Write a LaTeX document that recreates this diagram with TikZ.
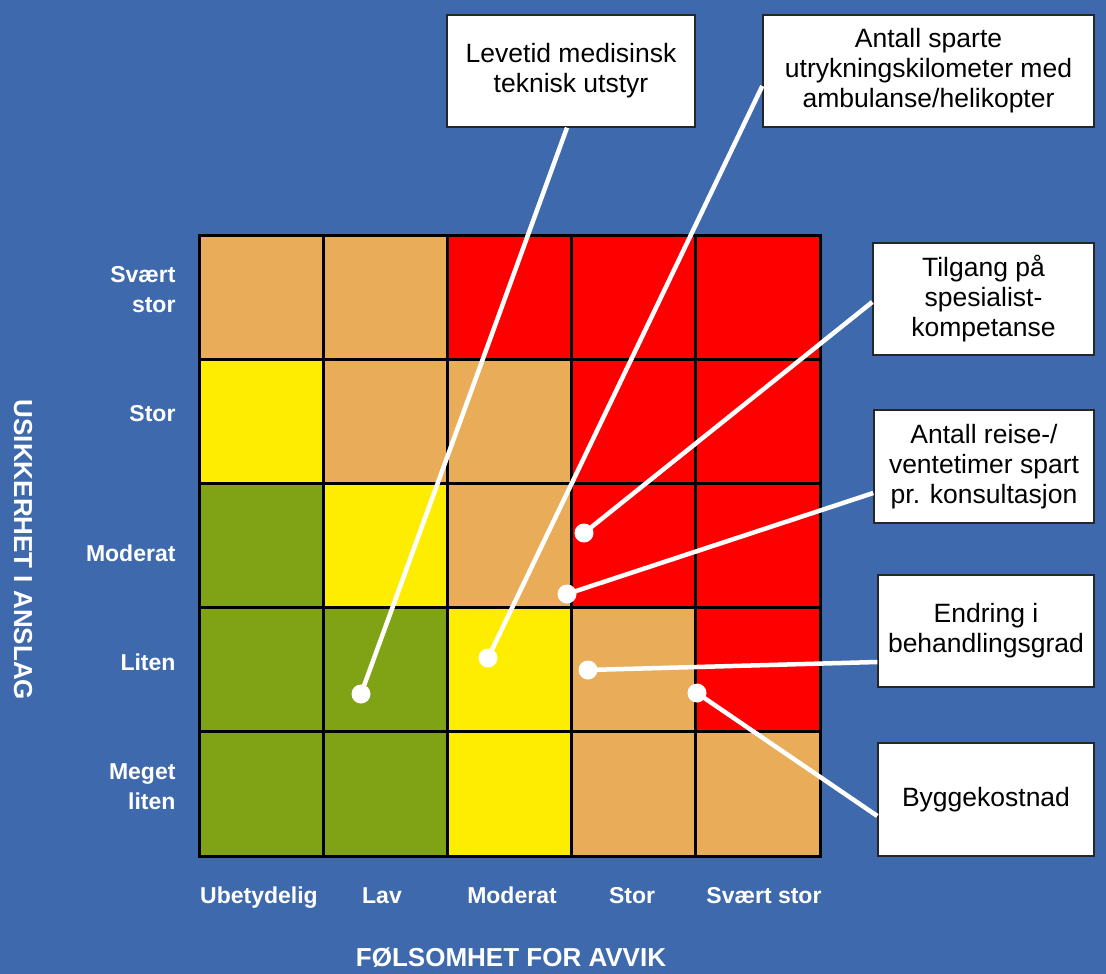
\documentclass[tikz,border=0pt]{standalone}
\usepackage{fontspec}
\setmainfont{Liberation Sans}
\begin{document}
\begin{tikzpicture}[x=1pt,y=-1pt,
  box/.style={draw=black!85, line width=1.4pt, fill=white, text=black, align=center,
    inner sep=0pt, font=\fontsize{26.5}{30}\selectfont},
  lab/.style={text=white, font=\bfseries\fontsize{23}{30}\selectfont},
  ttl/.style={text=white, font=\bfseries\fontsize{26}{30}\selectfont},
  dot/.style={circle, fill=white, inner sep=0pt, minimum size=19pt},
  con/.style={white, line width=4.5pt}]
\definecolor{bg}{HTML}{3E6AAD}
\definecolor{cO}{HTML}{E9AC59}
\definecolor{cR}{HTML}{FF0000}
\definecolor{cY}{HTML}{FFED00}
\definecolor{cG}{HTML}{80A315}
\fill[bg] (0,0) rectangle (1106,974);
\useasboundingbox (0,0) rectangle (1106,974);
% grid cells
\def\gx{199}\def\gy{235}\def\cs{124.2}
\foreach \r/\row in {0/{cO,cO,cR,cR,cR},1/{cY,cO,cO,cR,cR},2/{cG,cY,cO,cR,cR},3/{cG,cG,cY,cO,cR},4/{cG,cG,cY,cO,cO}}{
  \foreach \c [count=\i from 0] in \row {
    \fill[\c] ({\gx+\i*\cs},{\gy+\r*\cs}) rectangle ({\gx+(\i+1)*\cs},{\gy+(\r+1)*\cs});
  }
}
\foreach \i in {0,...,5}{
  \draw[black, line width=3pt] ({\gx+\i*\cs},\gy) -- ({\gx+\i*\cs},{\gy+5*\cs});
  \draw[black, line width=3pt] (\gx,{\gy+\i*\cs}) -- ({\gx+5*\cs},{\gy+\i*\cs});
}
\draw[black, line width=3pt, line cap=rect] (\gx,\gy) rectangle ({\gx+5*\cs},{\gy+5*\cs});
% row labels
\node[lab, anchor=east, align=right] (r1) at (179,290) {Svært\\stor};
\node[lab, anchor=east] (r2) at (179,414) {Stor};
\node[lab, anchor=east] (r3) at (179,553) {Moderat};
\node[lab, anchor=east] (r4) at (179,662) {Liten};
\node[lab, anchor=east, align=right] (r5) at (179,787) {Meget\\liten};
% column labels
\node[lab, anchor=base] (c1) at (259,903) {Ubetydelig};
\node[lab, anchor=base] (c2) at (382,903) {Lav};
\node[lab, anchor=base] (c3) at (512,903) {Moderat};
\node[lab, anchor=base] (c4) at (632,903) {Stor};
\node[lab, anchor=base] (c5) at (764,903) {Svært stor};
% axis titles
\node[ttl, anchor=base] (tx) at (511,966) {FØLSOMHET FOR AVVIK};
\node[ttl, rotate=-90] (ty) at (23,550) {USIKKERHET I ANSLAG};
% boxes
\node[box, minimum width=248pt, minimum height=112pt] (b1) at (571,71) {Levetid medisinsk\\teknisk utstyr};
\node[box, minimum width=331pt, minimum height=112pt] (b2) at (928.5,71) {Antall sparte\\utrykningskilometer med\\ambulanse/helikopter};
\node[box, minimum width=221pt, minimum height=112pt] (b3) at (983.5,299) {Tilgang på\\spesialist-\\kompetanse};
\node[box, minimum width=220pt, minimum height=113pt] (b4) at (984,466.5) {Antall reise-/\\ventetimer spart\\pr. konsultasjon};
\node[box, minimum width=216pt, minimum height=112pt] (b5) at (986,631) {Endring i\\behandlingsgrad};
\node[box, minimum width=216pt, minimum height=113pt] (b6) at (986,799.5) {Byggekostnad};
% dots
\coordinate (d1) at (361,694);
\coordinate (d2) at (488,658);
\coordinate (d3) at (584,533);
\coordinate (d4) at (567,594);
\coordinate (d5) at (588,670);
\coordinate (d6) at (697,693);
% connectors
\draw[con] (d1) -- ([xshift=-4pt]b1.south);
\draw[con] (d2) -- ([yshift=-15pt]b2.west);
\draw[con] (d3) -- ([yshift=-3pt]b3.west);
\draw[con] (d4) -- ([yshift=-26.5pt]b4.west);
\draw[con] (d5) -- ([yshift=-31pt]b5.west);
\draw[con] (d6) -- ([yshift=-16.5pt]b6.west);
\foreach \d in {d1,d2,d3,d4,d5,d6}{
  \node[dot] at (\d) {};
}
\end{tikzpicture}
\end{document}
